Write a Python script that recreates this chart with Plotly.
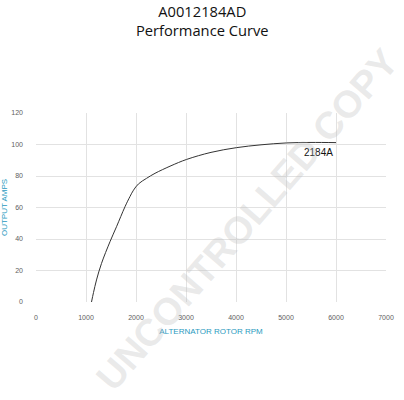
import plotly.graph_objects as go

rpm = [1110, 1150, 1210, 1310, 1480, 1610, 1780, 1880, 1950, 2050, 2210, 2380, 2700, 3010, 3500, 4010, 4500, 5010, 5500, 6000]
amps = [0, 6, 14, 24.5, 38.3, 47.8, 60.5, 67, 71, 75, 78.5, 81.7, 86.5, 90.5, 95, 98, 99.8, 101, 101.3, 101.2]

x_ticks = [0, 1000, 2000, 3000, 4000, 5000, 6000, 7000]
y_ticks = [0, 20, 40, 60, 80, 100, 120]

series_label = "2184A"
title_lines = ["A0012184AD", "Performance Curve"]
watermark = "UNCONTROLLED COPY"

fig = go.Figure()
fig.add_trace(go.Scatter(x=rpm, y=amps, mode="lines", line=dict(color="#333333", width=1), line_shape="spline", showlegend=False, hoverinfo="skip"))

fig.add_annotation(x=5650, y=95, text=series_label, showarrow=False, font=dict(family="Liberation Sans, Arial", size=10, color="#111111"))

fig.add_annotation(xref="paper", yref="paper", x=(202 - 36) / 350, y=1.0, yshift=114, text="<br>".join(title_lines), showarrow=False,
                   font=dict(family="Open Sans, Liberation Sans", size=14.7, color="#111111"), yanchor="top")

fig.add_annotation(xref="paper", yref="paper", x=(247 - 36) / 350, y=(302 - 220) / 189, text="<b>" + watermark + "</b>", showarrow=False,
                   textangle=-49, font=dict(family="Liberation Sans, Arial", size=38, color="rgba(190,190,190,0.33)"))

axis_common = dict(showgrid=True, gridcolor="#e2e2e2", gridwidth=1, zeroline=False, showline=False, automargin=False,
                   tickfont=dict(family="Liberation Sans, Arial", size=7, color="#606060"), ticks="")
fig.update_xaxes(range=[0, 7000], tickvals=x_ticks, ticklabelstandoff=10,
                 title=dict(text="ALTERNATOR ROTOR RPM", font=dict(family="Liberation Sans, Arial", size=8, color="#2a9ac0"), standoff=8), **axis_common)
fig.update_yaxes(range=[0, 120], tickvals=y_ticks, ticklabelstandoff=12,
                 title=dict(text="OUTPUT AMPS", font=dict(family="Liberation Sans, Arial", size=8, color="#2a9ac0"), standoff=4), **axis_common)

fig.update_layout(width=404, height=400, margin=dict(l=36, r=18, t=113, b=98), plot_bgcolor="white", paper_bgcolor="white")

fig.write_html("out.html", config={"displayModeBar": False}, post_script="document.body.style.margin='0';")
